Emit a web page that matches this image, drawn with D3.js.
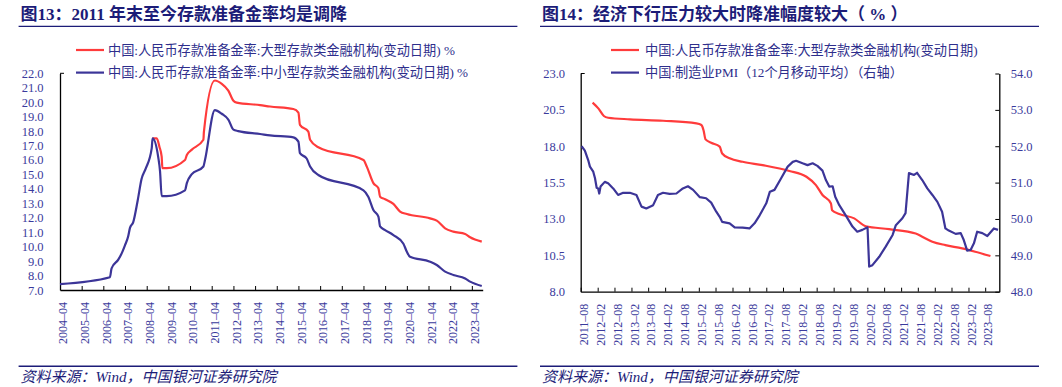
<!DOCTYPE html>
<html>
<head>
<meta charset="utf-8">
<script src="https://cdn.jsdelivr.net/npm/d3@7"></script>
<style>
  body { margin: 0; background: #fff; }
  svg { display: block; }
</style>
</head>
<body>
<div id="chart"></div>
<script>
// ---- 图13 数据：存款准备金率（%）
const bigDatesL = ["2008-07-09","2008-09-18","2008-11-01","2008-12-09","2008-12-21","2009-03-03","2010-01-06","2010-02-06","2010-04-27","2010-11-12","2010-11-21","2011-05-24","2011-09-18","2012-01-06","2012-04-01","2012-05-27","2013-06-24","2013-12-09","2015-01-06","2015-04-01","2015-04-27","2015-09-15","2015-10-15","2016-03-01","2018-04-01","2018-05-27","2018-09-15","2018-12-09","2019-01-06","2019-04-01","2019-08-18","2019-12-09","2020-04-01","2021-04-27","2021-08-18","2022-01-06","2022-05-24","2022-12-09","2023-03-03","2023-09-15"];
const bigRateL = [17.5,17.5,16.92,16.23,15.43,15.43,16.0,16.35,16.7,17.4,17.96,21.5,21.27,20.8,20.1,19.97,19.8,19.7,19.53,19.28,18.43,17.96,17.4,16.88,16.0,15.54,14.4,14.04,13.46,13.28,12.96,12.43,12.26,11.96,11.8,11.27,11.04,10.88,10.65,10.35];

const smallDatesL = ["2004-04-01","2006-07-21","2006-08-18","2006-12-09","2007-02-06","2007-04-01","2007-05-24","2007-06-24","2007-08-18","2007-11-01","2008-01-06","2008-03-15","2008-06-24","2008-07-09","2008-10-12","2008-11-12","2008-12-09","2009-03-03","2010-01-06","2010-02-06","2010-04-27","2010-11-12","2010-12-09","2011-05-24","2011-09-18","2012-01-06","2012-04-01","2012-06-21","2013-06-24","2013-12-09","2015-01-06","2015-04-01","2015-04-27","2015-08-18","2015-10-15","2016-03-01","2018-04-01","2018-06-21","2018-09-15","2018-12-09","2019-01-06","2019-04-01","2019-08-18","2020-02-03","2020-04-01","2020-05-24","2021-04-27","2021-08-18","2022-01-06","2022-05-24","2022-12-09","2023-03-03","2023-09-15"];
const smallRateL = [7.4,7.88,8.5,9.1,9.55,10.1,10.7,11.3,11.7,13.2,14.7,15.4,16.8,17.5,16.2,15.2,13.5,13.5,13.9,14.4,15.0,15.55,16.0,19.45,19.2,18.8,18.1,18.0,17.8,17.7,17.57,17.27,16.47,16.1,15.55,14.96,13.9,13.46,12.54,12.08,11.4,11.15,10.8,10.2,9.65,9.3,8.96,8.73,8.27,8.04,7.8,7.58,7.28];

const ticksL = ["2004-04","2005-04","2006-04","2007-04","2008-04","2009-04","2010-04","2011-04","2012-04","2013-04","2014-04","2015-04","2016-04","2017-04","2018-04","2019-04","2020-04","2021-04","2022-04","2023-04"];
const yTicksL = [7,8,9,10,11,12,13,14,15,16,17,18,19,20,21,22];

// ---- 图14 数据：大型机构准备金率（%，左轴）与制造业PMI 12个月移动平均（右轴）
const bigDatesR = ["2011-12-08","2012-02-08","2012-04-08","2012-05-24","2013-01-15","2014-01-09","2015-01-06","2015-03-01","2015-03-24","2015-04-15","2015-06-15","2015-09-15","2015-10-12","2016-01-01","2016-05-21","2016-12-24","2017-10-09","2018-04-12","2018-07-24","2018-10-03","2019-01-03","2019-01-15","2019-04-03","2019-09-12","2020-01-15","2020-09-24","2021-07-09","2021-09-18","2022-01-06","2022-05-27","2022-11-24","2023-04-15","2023-09-27"];
const bigRateR = [21.0,20.6,20.08,19.96,19.85,19.75,19.57,19.46,19.1,18.47,18.24,17.97,17.5,17.17,16.93,16.7,16.3,15.9,15.33,14.65,14.07,13.6,13.34,13.04,12.5,12.3,12.0,11.78,11.44,11.2,10.98,10.75,10.45];

const pmiDates = ["2011-08-11","2011-09-15","2011-10-21","2011-11-09","2011-12-15","2012-01-03","2012-01-21","2012-02-06","2012-02-18","2012-03-03","2012-04-18","2012-05-24","2012-07-18","2012-09-09","2012-11-03","2013-01-15","2013-03-27","2013-05-21","2013-07-12","2013-09-24","2013-11-15","2014-01-09","2014-03-21","2014-06-03","2014-08-12","2014-10-06","2014-12-01","2015-02-12","2015-04-21","2015-06-15","2015-08-09","2015-09-15","2015-10-12","2016-01-01","2016-02-24","2016-05-21","2016-08-03","2016-09-27","2016-11-21","2017-02-01","2017-03-12","2017-05-01","2017-07-12","2017-09-21","2017-11-15","2017-12-21","2018-03-01","2018-04-24","2018-06-18","2018-08-09","2018-10-03","2018-11-09","2018-12-15","2019-01-21","2019-02-18","2019-04-03","2019-06-12","2019-08-24","2019-10-15","2019-12-09","2020-02-03","2020-02-21","2020-03-27","2020-06-09","2020-08-18","2020-11-01","2020-12-06","2021-02-15","2021-03-21","2021-04-27","2021-06-21","2021-07-24","2021-09-18","2021-11-12","2022-01-06","2022-03-01","2022-04-21","2022-05-27","2022-07-03","2022-09-15","2022-11-09","2022-12-12","2023-01-18","2023-02-24","2023-04-01","2023-05-06","2023-07-01","2023-08-24","2023-11-03","2023-12-18"];
const pmiVals = [52.0,51.88,51.62,51.44,51.3,51.12,50.86,50.84,50.7,50.89,51.02,50.98,50.84,50.66,50.72,50.72,50.66,50.34,50.29,50.38,50.66,50.72,50.69,50.7,50.84,50.9,50.8,50.6,50.57,50.45,50.2,50.06,49.92,49.88,49.77,49.76,49.74,49.88,50.1,50.43,50.75,50.8,51.12,51.44,51.57,51.6,51.53,51.48,51.53,51.46,51.33,51.07,50.89,50.9,50.61,50.38,50.1,49.79,49.65,49.7,49.77,48.69,48.73,48.96,49.24,49.56,49.83,50.02,50.16,51.26,51.21,51.27,51.07,50.84,50.66,50.47,50.2,49.74,49.68,49.59,49.61,49.42,49.13,49.15,49.33,49.65,49.61,49.53,49.74,49.7];

const ticksR = ["2011-08","2012-02","2012-08","2013-02","2013-08","2014-02","2014-08","2015-02","2015-08","2016-02","2016-08","2017-02","2017-08","2018-02","2018-08","2019-02","2019-08","2020-02","2020-08","2021-02","2021-08","2022-02","2022-08","2023-02","2023-08"];
const yTicksR = [8.0,10.5,13.0,15.5,18.0,20.5,23.0];
const y2TicksR = [48,49,50,51,52,53,54];

const titles = ["图13：2011 年末至今存款准备金率均是调降", "图14：经济下行压力较大时降准幅度较大（ % ）"];
const legendL = ["中国:人民币存款准备金率:大型存款类金融机构(变动日期) %", "中国:人民币存款准备金率:中小型存款类金融机构(变动日期) %"];
const legendR = ["中国:人民币存款准备金率:大型存款类金融机构(变动日期)", "中国:制造业PMI（12个月移动平均）（右轴）"];
const sourceText = "资料来源：Wind，中国银河证券研究院";

const RED = "#ff3b3b", BLUE = "#3c3598", NAVY = "#1c1c78", LABEL = "#3a3a9c";
const serif = "'Liberation Serif','Noto Sans CJK SC',serif";

const parseDay = d3.timeParse("%Y-%m-%d");
const parseMonth = d3.timeParse("%Y-%m");

const svg = d3.select("#chart").append("svg")
    .attr("width", 1062)
    .attr("height", 387);

// 标题、横线、图例、资料来源
function frame(x0, x1, title, legend, lineX, textX) {
    svg.append("text")
        .attr("x", x0 + 2).attr("y", 19.5)
        .attr("fill", NAVY)
        .style("font-family", serif)
        .style("font-size", "17px")
        .style("font-weight", "bold")
        .text(title);
    [26.4, 366.2].forEach(yy => {
        svg.append("line")
            .attr("x1", x0).attr("x2", x1).attr("y1", yy).attr("y2", yy)
            .attr("stroke", NAVY).attr("stroke-width", 1.4);
    });
    svg.append("text")
        .attr("x", x0 + 2).attr("y", 381.5)
        .attr("fill", NAVY)
        .style("font-family", serif)
        .style("font-size", "15px")
        .style("font-style", "italic")
        .text(sourceText);

    [RED, BLUE].forEach((c, i) => {
        const yy = 50 + i * 22.6;
        svg.append("line")
            .attr("x1", lineX).attr("x2", lineX + 28).attr("y1", yy).attr("y2", yy)
            .attr("stroke", c).attr("stroke-width", 2.2);
        svg.append("text")
            .attr("x", textX).attr("y", yy).attr("dy", "0.35em")
            .attr("fill", "#2e2e8c")
            .style("font-family", serif)
            .style("font-size", "13.2px")
            .text(legend[i]);
    });
}

function bottomAxis(x, y0, ticks) {
    const g = svg.append("g")
        .attr("transform", `translate(0,${y0})`)
        .attr("color", "#000")
        .call(d3.axisBottom(x)
            .tickValues(ticks.map(parseMonth))
            .tickSize(-4)
            .tickSizeOuter(0)
            .tickFormat(d3.timeFormat("%Y–%m")));
    g.select(".domain").attr("stroke-width", 1.3);
    g.selectAll(".tick line").attr("stroke-width", 1);
    g.selectAll(".tick text")
        .attr("transform", "rotate(-90)")
        .attr("text-anchor", "end")
        .attr("x", -12).attr("y", 2.5).attr("dy", "0.35em")
        .attr("fill", LABEL)
        .style("font-family", serif)
        .style("font-size", "12px");
}

function sideAxis(axis, xpos, fmt, pad, size) {
    const g = svg.append("g")
        .attr("transform", `translate(${xpos},0)`)
        .attr("color", "#000")
        .call(axis.tickFormat(fmt).tickSize(size).tickSizeOuter(0).tickPadding(pad));
    g.select(".domain").attr("stroke-width", 1.3);
    g.selectAll(".tick text")
        .attr("fill", LABEL)
        .style("font-family", serif)
        .style("font-size", "12.5px");
    return g;
}

function topTick(xpos, ytop, dir) {
    svg.append("line")
        .attr("x1", xpos).attr("x2", xpos + dir * 4)
        .attr("y1", ytop).attr("y2", ytop)
        .attr("stroke", "#000").attr("stroke-width", 1);
}

// ---------------- 图13 ----------------
frame(18.6, 517.4, titles[0], legendL, 76, 108);

const xL = d3.scaleTime()
    .domain([parseMonth("2004-04"), parseMonth("2023-10")])
    .range([60, 482.7]);
const yL = d3.scaleLinear().domain([7, 22]).range([290, 73.3]);

sideAxis(d3.axisLeft(yL).tickValues(yTicksL), 60, d3.format(".1f"), 16.5, 0);
topTick(60, 73.3, 1);
bottomAxis(xL, 290, ticksL);

const lineL = d3.line()
    .x(d => xL(d[0])).y(d => yL(d[1]))
    .curve(d3.curveMonotoneX);

svg.append("path")
    .datum(bigDatesL.map((d, i) => [parseDay(d), bigRateL[i]]))
    .attr("d", lineL)
    .attr("fill", "none").attr("stroke", RED).attr("stroke-width", 2.2);
svg.append("path")
    .datum(smallDatesL.map((d, i) => [parseDay(d), smallRateL[i]]))
    .attr("d", lineL)
    .attr("fill", "none").attr("stroke", BLUE).attr("stroke-width", 2.2);

// ---------------- 图14 ----------------
frame(540, 1039, titles[1], legendR, 611, 645);

const xR = d3.scaleTime()
    .domain([parseMonth("2011-08"), parseMonth("2024-01")])
    .range([580.7, 999.3]);
const yR = d3.scaleLinear().domain([8, 23]).range([291.7, 73.5]);
const y2R = d3.scaleLinear().domain([48, 54]).range([291.7, 73.5]);

sideAxis(d3.axisLeft(yR).tickValues(yTicksR), 580.7, d3.format(".1f"), 15.7, 0);
topTick(580.7, 73.5, 1);
sideAxis(d3.axisRight(y2R).tickValues(y2TicksR), 999.3, d3.format(".1f"), 11.4, -4);
bottomAxis(xR, 291.7, ticksR);

svg.append("path")
    .datum(bigDatesR.map((d, i) => [parseDay(d), bigRateR[i]]))
    .attr("d", d3.line().x(d => xR(d[0])).y(d => yR(d[1])).curve(d3.curveMonotoneX))
    .attr("fill", "none").attr("stroke", RED).attr("stroke-width", 2.2);
svg.append("path")
    .datum(pmiDates.map((d, i) => [parseDay(d), pmiVals[i]]))
    .attr("d", d3.line().x(d => xR(d[0])).y(d => y2R(d[1])))
    .attr("fill", "none").attr("stroke", BLUE).attr("stroke-width", 2.2)
    .attr("stroke-linejoin", "round");
</script>
</body>
</html>
